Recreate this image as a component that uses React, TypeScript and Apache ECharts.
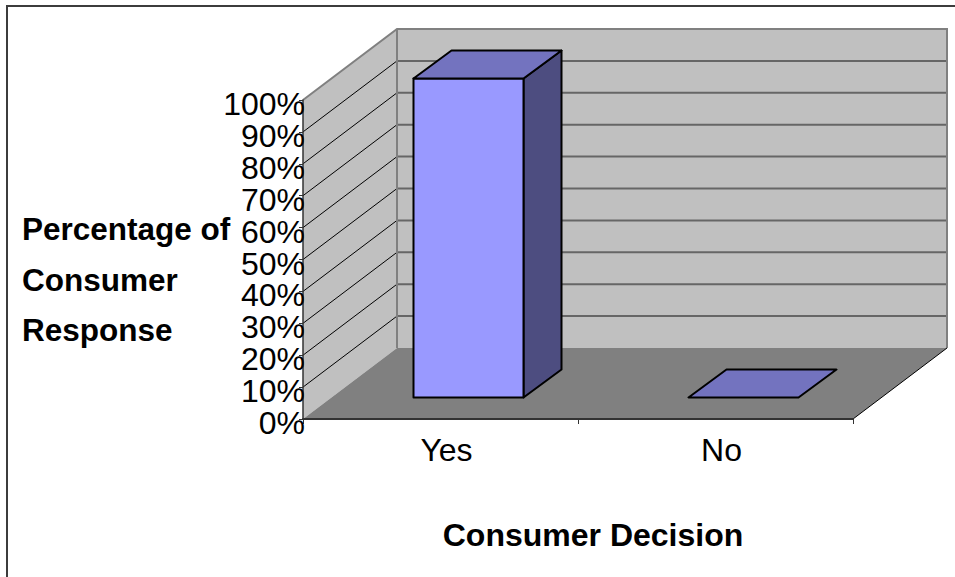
import React, { useEffect, useRef } from "react";
import * as echarts from "echarts";

const categories = ["Yes", "No"];
const responseValues = [100, 0];
const percentTicks = [0, 10, 20, 30, 40, 50, 60, 70, 80, 90, 100];
const yAxisTitle = "Percentage of\nConsumer\nResponse";
const xAxisTitle = "Consumer Decision";

const FONT = '"Liberation Sans", Arial, sans-serif';
const DX = 94;
const DY = -71;
const BAR_DX = 28;
const BAR_DY = -21.5;
const BAR_DEPTH_X = 38;
const BAR_DEPTH_Y = -28;

export default function App() {
  const ref = useRef<HTMLDivElement>(null);
  useEffect(() => {
    const chart = echarts.init(ref.current!, undefined, { renderer: "svg" });
    chart.setOption({
      animation: false,
      backgroundColor: "#ffffff",
      grid: [
        { left: 303, top: 100, width: 550, height: 319 },
        { left: 303, top: 104, width: 550, height: 319 },
      ],
      xAxis: [
        {
          type: "category",
          data: categories,
          z: 10,
          name: xAxisTitle,
          nameLocation: "middle",
          nameGap: 100,
          nameMoveOverlap: false,
          nameTextStyle: { fontFamily: FONT, fontSize: 32, fontWeight: "bold", color: "#000", padding: [0, 0, 0, 30] },
          axisLine: { lineStyle: { color: "#333", width: 2 } },
          axisTick: { show: true, length: 5, alignWithLabel: false, lineStyle: { color: "#333", width: 1 } },
          axisLabel: { fontFamily: FONT, fontSize: 32, color: "#000", margin: 15, padding: [0, 0, 0, 12] },
        },
        { type: "category", gridIndex: 1, data: categories, show: false },
      ],
      yAxis: [
        {
          type: "value",
          min: 0,
          max: 100,
          interval: 10,
          z: 10,
          axisLine: { show: true, lineStyle: { color: "#333", width: 1.5 } },
          axisTick: { show: true, length: 4, lineStyle: { color: "#333", width: 1 } },
          splitLine: { show: false },
          axisLabel: { show: false },
        },
        {
          type: "value",
          gridIndex: 1,
          min: 0,
          max: 100,
          interval: 10,
          z: 10,
          axisLine: { show: false },
          axisTick: { show: false },
          splitLine: { show: false },
          axisLabel: { fontFamily: FONT, fontSize: 32, lineHeight: 31, color: "#000", margin: -2, formatter: "{value}%" },
        },
      ],
      graphic: [
        { type: "rect", silent: true, z: 100, shape: { x: 7, y: 6, width: 1000, height: 1000 }, style: { fill: "none", stroke: "#3c3c3c", lineWidth: 2 } },
        { type: "text", silent: true, z: 100, x: 22, y: 204, style: { text: yAxisTitle, fontFamily: FONT, fontSize: 31.5, fontWeight: "bold", fill: "#000", lineHeight: 50.5, align: "left", verticalAlign: "top" } },
      ],
      series: [
        {
          type: "custom",
          name: "Walls",
          z: 1,
          silent: true,
          data: [[0, 0]],
          encode: { x: 0, y: 1 },
          renderItem: (params: any, api: any) => {
            const cs = params.coordSys;
            const L = cs.x, R = cs.x + cs.width, B = cs.y + cs.height, T = cs.y;
            const children: any[] = [
              { type: "polygon", shape: { points: [[L, B], [L, T], [L + DX, T + DY], [L + DX, B + DY]] }, style: { fill: "#c0c0c0", stroke: null } },
              { type: "rect", shape: { x: L + DX, y: T + DY, width: cs.width, height: cs.height }, style: { fill: "#c0c0c0", stroke: null } },
              { type: "polygon", shape: { points: [[L, B], [R, B], [R + DX, B + DY], [L + DX, B + DY]] }, style: { fill: "#808080", stroke: null } },
            ];
            percentTicks.forEach((t) => {
              if (t === 0 || t === 100) return;
              const y = api.coord([0, t])[1];
              children.push({ type: "line", shape: { x1: L, y1: y, x2: L + DX, y2: y + DY }, style: { stroke: "#000", lineWidth: 1 } });
              children.push({ type: "line", shape: { x1: L + DX, y1: y + DY, x2: R + DX, y2: y + DY }, style: { stroke: "#666", lineWidth: 2 } });
            });
            children.push(
              { type: "polyline", shape: { points: [[L, T], [L + DX, T + DY], [R + DX, T + DY], [R + DX, B + DY]] }, style: { fill: "none", stroke: "#808080", lineWidth: 2 } },
              { type: "line", shape: { x1: L + DX, y1: T + DY, x2: L + DX, y2: B + DY }, style: { stroke: "#808080", lineWidth: 2 } },
              { type: "line", shape: { x1: R, y1: B, x2: R + DX, y2: B + DY }, style: { stroke: "#000", lineWidth: 1 } },
            );
            return { type: "group", children };
          },
        },
        {
          type: "custom",
          name: "Consumer Response",
          z: 3,
          silent: true,
          data: responseValues.map((v, i) => [i, v]),
          encode: { x: 0, y: 1 },
          renderItem: (_params: any, api: any) => {
            const idx = api.value(0);
            const val = api.value(1);
            const base = api.coord([idx, 0]);
            const top = api.coord([idx, val]);
            const w = api.size([1, 0])[0] * 0.4;
            const x0 = base[0] - w / 2 + BAR_DX;
            const x1 = x0 + w;
            const yb = base[1] + BAR_DY;
            const yt = top[1] + BAR_DY;
            const stroke = { stroke: "#000", lineWidth: 2, lineJoin: "round" };
            const children: any[] = [];
            if (yb - yt > 0.5) {
              children.push(
                { type: "polygon", shape: { points: [[x1, yt], [x1 + BAR_DEPTH_X, yt + BAR_DEPTH_Y], [x1 + BAR_DEPTH_X, yb + BAR_DEPTH_Y], [x1, yb]] }, style: { fill: "#4d4d80", ...stroke } },
                { type: "rect", shape: { x: x0, y: yt, width: w, height: yb - yt }, style: { fill: "#9999ff", ...stroke } },
              );
            }
            children.push({ type: "polygon", shape: { points: [[x0, yt], [x1, yt], [x1 + BAR_DEPTH_X, yt + BAR_DEPTH_Y], [x0 + BAR_DEPTH_X, yt + BAR_DEPTH_Y]] }, style: { fill: "#7373bf", ...stroke } });
            return { type: "group", children };
          },
        },
      ],
    });
    return () => chart.dispose();
  }, []);
  return <div ref={ref} style={{ position: "absolute", left: 0, top: 0, width: 955, height: 577 }} />;
}
